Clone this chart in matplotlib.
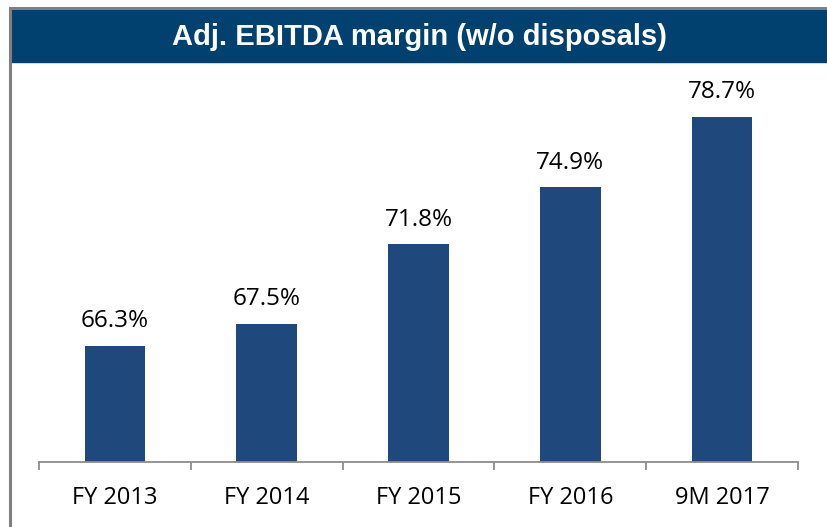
import matplotlib
matplotlib.use("Agg")
import matplotlib.pyplot as plt
from matplotlib.patches import Rectangle
from matplotlib.lines import Line2D

categories = ["FY 2013", "FY 2014", "FY 2015", "FY 2016", "9M 2017"]
margins = [66.3, 67.5, 71.8, 74.9, 78.7]
value_labels = ["66.3%", "67.5%", "71.8%", "74.9%", "78.7%"]
title = "Adj. EBITDA margin (w/o disposals)"

W, H = 827, 527
fig = plt.figure(figsize=(W / 100, H / 100), dpi=100)

# title banner and grey frame
fig.patches.append(Rectangle((11 / W, 1 - 62 / H), 1 - 11 / W, 53 / H,
                             transform=fig.transFigure, color="#00416F", zorder=0))
fig.lines.append(Line2D([9.5 / W, 1], [1 - 7.5 / H] * 2, transform=fig.transFigure,
                        color="#808080", lw=2.2))
fig.lines.append(Line2D([10 / W] * 2, [0, 1 - 7.5 / H], transform=fig.transFigure,
                        color="#808080", lw=2.2))
fig.text(420 / W, 1 - 37 / H, title, color="white", ha="center", va="center",
         fontsize=21, fontweight="bold", family="Liberation Sans")

ax = fig.add_axes([39 / W, 65 / H, (798 - 39) / W, (462 - 93) / H])
x = list(range(len(categories)))
ax.bar(x, margins, width=0.4, color="#1F497D", bottom=0)
ax.set_ylim(60, 80)
ax.set_xlim(-0.5, len(categories) - 0.5)

for xi, v, lab in zip(x, margins, value_labels):
    ax.annotate(lab, (xi, v), xytext=(0, 9), textcoords="offset points",
                ha="center", va="bottom", fontsize=17.5, family="Open Sans")

for s in ["top", "left", "right"]:
    ax.spines[s].set_visible(False)
ax.spines["bottom"].set_color("#8C8C8C")
ax.spines["bottom"].set_linewidth(1.3)
ax.set_yticks([])
ax.set_xticks(x)
ax.set_xticklabels(categories, fontsize=17, family="Open Sans")
ax.tick_params(axis="x", which="major", length=0, pad=17)
ax.set_xticks([i - 0.5 for i in range(len(categories) + 1)], minor=True)
ax.tick_params(axis="x", which="minor", length=6, width=1.3, color="#8C8C8C")

fig.savefig("out.png", dpi=100)
